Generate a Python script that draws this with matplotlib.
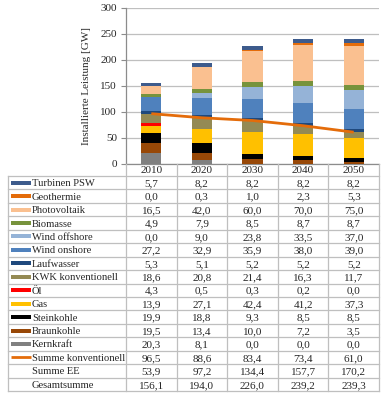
import matplotlib
matplotlib.use("Agg")
import matplotlib.pyplot as plt
import numpy as np

years = ["2010", "2020", "2030", "2040", "2050"]

# stacking order bottom -> top
stack_names = ["Kernkraft", "Braunkohle", "Steinkohle", "Gas", "Öl",
               "KWK konventionell", "Laufwasser", "Wind onshore",
               "Wind offshore", "Biomasse", "Photovoltaik", "Geothermie",
               "Turbinen PSW"]
kernkraft = [20.3, 8.1, 0.0, 0.0, 0.0]
braunkohle = [19.5, 13.4, 10.0, 7.2, 3.5]
steinkohle = [19.9, 18.8, 9.3, 8.5, 8.5]
gas = [13.9, 27.1, 42.4, 41.2, 37.3]
oel = [4.3, 0.5, 0.3, 0.2, 0.0]
kwk = [18.6, 20.8, 21.4, 16.3, 11.7]
laufwasser = [5.3, 5.1, 5.2, 5.2, 5.2]
wind_onshore = [27.2, 32.9, 35.9, 38.0, 39.0]
wind_offshore = [0.0, 9.0, 23.8, 33.5, 37.0]
biomasse = [4.9, 7.9, 8.5, 8.7, 8.7]
photovoltaik = [16.5, 42.0, 60.0, 70.0, 75.0]
geothermie = [0.0, 0.3, 1.0, 2.3, 5.3]
turbinen_psw = [5.7, 8.2, 8.2, 8.2, 8.2]
summe_konv = [96.5, 88.6, 83.4, 73.4, 61.0]
summe_ee = [53.9, 97.2, 134.4, 157.7, 170.2]
gesamtsumme = [156.1, 194.0, 226.0, 239.2, 239.3]

stack_values = [kernkraft, braunkohle, steinkohle, gas, oel, kwk, laufwasser,
                wind_onshore, wind_offshore, biomasse, photovoltaik,
                geothermie, turbinen_psw]
colors = {
    "Turbinen PSW": "#3d5b8c",
    "Geothermie": "#e46c0a",
    "Photovoltaik": "#fac090",
    "Biomasse": "#77933c",
    "Wind offshore": "#95b3d7",
    "Wind onshore": "#4f81bd",
    "Laufwasser": "#1f497d",
    "KWK konventionell": "#948a54",
    "Öl": "#ff0000",
    "Gas": "#ffc000",
    "Steinkohle": "#000000",
    "Braunkohle": "#984807",
    "Kernkraft": "#808080",
}
line_color = "#e46c0a"

# table rows, top -> bottom
table_rows = [("Turbinen PSW", turbinen_psw), ("Geothermie", geothermie),
              ("Photovoltaik", photovoltaik), ("Biomasse", biomasse),
              ("Wind offshore", wind_offshore), ("Wind onshore", wind_onshore),
              ("Laufwasser", laufwasser), ("KWK konventionell", kwk),
              ("Öl", oel), ("Gas", gas), ("Steinkohle", steinkohle),
              ("Braunkohle", braunkohle), ("Kernkraft", kernkraft),
              ("Summe konventionell", summe_konv), ("Summe EE", summe_ee),
              ("Gesamtsumme", gesamtsumme)]

plt.rcParams['font.family'] = ['Liberation Serif', 'DejaVu Serif']
FS = 8
FS_LAB = 7.6
TXT = "#262626"

W, H = 388, 400
fig = plt.figure(figsize=(W / 100, H / 100), dpi=100)

# layout in pixels
ax_l, ax_r, ax_t, ax_b = 126, 379, 7.5, 164
ax = fig.add_axes([ax_l / W, 1 - ax_b / H, (ax_r - ax_l) / W, (ax_b - ax_t) / H])

x = np.arange(len(years))
bottom = np.zeros(len(years))
for name, vals in zip(stack_names, stack_values):
    ax.bar(x, vals, 0.4, bottom=bottom, color=colors[name], zorder=3)
    bottom += np.array(vals)
ax.plot(x, summe_konv, color=line_color, lw=2, zorder=4, solid_capstyle='butt')

ax.set_xlim(-0.5, len(years) - 0.5)
ax.set_ylim(0, 300)
ax.set_yticks(range(0, 301, 50))
ax.yaxis.grid(True, color="#bfbfbf", lw=0.9, zorder=0)
for s in ["top", "right"]:
    ax.spines[s].set_visible(False)
ax.spines["left"].set_color("#8c8c8c")
ax.spines["bottom"].set_color("#8c8c8c")
ax.spines["left"].set_linewidth(0.9)
ax.spines["bottom"].set_linewidth(0.9)
ax.tick_params(axis='y', length=3.5, color="#8c8c8c", labelsize=FS, pad=3,
               labelcolor=TXT)
ax.set_xticks(x)
ax.set_xticklabels(years)
ax.tick_params(axis='x', length=0, labelsize=FS, pad=1.5, labelcolor=TXT)
ax.set_ylabel("Installierte Leistung [GW]", fontsize=FS, labelpad=7, color=TXT)

# overlay for table in pixel coordinates
ov = fig.add_axes([0, 0, 1, 1])
ov.set_xlim(0, W)
ov.set_ylim(H, 0)
ov.axis("off")

tab_l = 8
row_top = 176
row_h = (391 - 176) / len(table_rows)
col_w = (ax_r - ax_l) / len(years)
gc = "#bfbfbf"
lw = 0.9

# vertical lines
ov.plot([tab_l, tab_l], [row_top, row_top + row_h * len(table_rows)], color=gc, lw=lw)
for k in range(len(years) + 1):
    xx = ax_l + k * col_w
    ov.plot([xx, xx], [ax_b, row_top + row_h * len(table_rows)], color=gc, lw=lw)
# horizontal lines
for i in range(len(table_rows) + 1):
    yy = row_top + i * row_h
    ov.plot([tab_l, ax_r], [yy, yy], color=gc, lw=lw)

def fmt(v):
    return f"{v:.1f}".replace(".", ",")

for i, (name, vals) in enumerate(table_rows):
    yc = row_top + (i + 0.5) * row_h
    if name in colors:
        ov.add_patch(plt.Rectangle((11, yc - 2), 20, 4, color=colors[name], lw=0))
    elif name == "Summe konventionell":
        ov.plot([11, 31], [yc, yc], color=line_color, lw=2, solid_capstyle='butt')
    ov.text(32, yc, name, fontsize=FS_LAB, va="center_baseline", ha="left", color=TXT)
    for k, v in enumerate(vals):
        ov.text(ax_l + (k + 0.5) * col_w, yc, fmt(v), fontsize=FS,
                va="center_baseline", ha="center", color=TXT)

fig.savefig("out.png", dpi=100)
